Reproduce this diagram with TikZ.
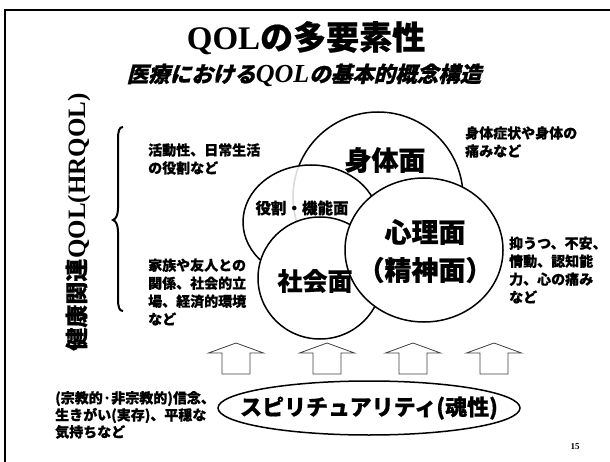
\documentclass[tikz,border=0pt]{standalone}
\usepackage{fontspec}
\usetikzlibrary{shapes.geometric}
\setmainfont{Liberation Serif}
\newfontfamily\jp{Noto Sans CJK JP}[BoldFeatures={FakeBold=0.6}]
\newfontfamily\jpsl{Noto Sans CJK JP}[UprightFeatures={FakeSlant=0.25},BoldFeatures={FakeSlant=0.25,FakeBold=1}]
\tikzset{
  disc/.style={draw=black, line width=1.5pt, fill=white, ellipse, inner sep=0pt, minimum width=#1},
  note/.style={anchor=west, align=left, inner sep=0pt, font=\jp\bfseries\fontsize{14}{18}\selectfont},
  biglabel/.style={inner sep=0pt, font=\jp\bfseries\fontsize{27}{36}\selectfont},
  blockarrow/.style={draw=black!75, line width=0.8pt, fill=white},
}
\begin{document}
\begin{tikzpicture}[x=1pt,y=-1pt]
\useasboundingbox (0,0) rectangle (610,462);
% frame
\draw[line width=2pt] (5,470) -- (5,10) -- (620,10);
% titles
\node[inner sep=0pt, font=\bfseries\fontsize{33}{36}\selectfont] (title) at (306,38) {QOL{\jp\bfseries の多要素性}};
\node[inner sep=0pt, font=\bfseries\itshape\fontsize{26}{28}\selectfont] (subtitle) at (304,75) {{\jpsl\bfseries\upshape\fontsize{21.5}{26}\selectfont 医療における}QOL{\jpsl\bfseries\upshape\fontsize{21.5}{26}\selectfont の基本的概念構造}};
% vertical label
\node[inner sep=0pt, rotate=90, font=\bfseries\fontsize{25}{26}\selectfont] (hrqol) at (78,222) {{\jp\bfseries\fontsize{23}{26}\selectfont 健康関連}QOL(HRQOL)};
% brace
\draw[line width=2pt] (123,127) .. controls (119,127) and (118,131) .. (118,140) -- (118,208)
  .. controls (118,215) and (116,219) .. (113,220) .. controls (116,221) and (118,225) .. (118,232)
  -- (118,298) .. controls (118,307) and (119,311) .. (123,311);
% circles
\node[disc=170, minimum height=170] (shintai) at (378,197) {};
\node[disc=136, minimum height=114, fill opacity=0.85] (yakuwari) at (311,222) {};
\node[disc=124, minimum height=122] (shakai) at (320,278) {};
\node[disc=158, minimum height=144] (shinri) at (424,250) {};
% circle labels
\node[biglabel] (shintaiL) at (385,160) {身体面};
\node[inner sep=0pt, font=\jp\bfseries\fontsize{15.5}{18}\selectfont] (yakuwariL) at (302,208) {役割・機能面};
\node[biglabel, font=\jp\bfseries\fontsize{25}{30}\selectfont] (shakaiL) at (315,281) {社会面};
\node[biglabel] (shinriL) at (425,232) {心理面};
\node[biglabel] (seishinL) at (425,270) {（精神面）};
% notes
\node[note] (n1) at (148,159) {活動性、日常生活\\の役割など};
\node[note] (n2) at (148,292) {家族や友人との\\関係、社会的立\\場、経済的環境\\など};
\node[note] (n3) at (465,142) {身体症状や身体の\\痛みなど};
\node[note] (n4) at (509,270) {抑うつ、不安、\\情動、認知能\\力、心の痛み\\など};
\node[note, font=\jp\bfseries\fontsize{14}{17}\selectfont] (n5) at (55,415) {(宗教的·非宗教的)信念、\\生きがい(実存)、平穏な\\気持ちなど};
% block arrows
\foreach \cx in {236,327,413,494} {
  \draw[blockarrow] (\cx,343) -- (\cx+27.5,353) -- (\cx+14,353) -- (\cx+14,374)
    -- (\cx-14,374) -- (\cx-14,353) -- (\cx-27.5,353) -- cycle;
}
% spirituality
\node[disc=302, minimum height=54] (spirit) at (369,408) {};
\node[inner sep=0pt, font=\jp\bfseries\fontsize{22}{26}\selectfont] (spiritL) at (369,408) {スピリチュアリティ(魂性)};
% page number
\node[inner sep=0pt, font=\bfseries\fontsize{9}{10}\selectfont] (page) at (575,447) {15};
\end{tikzpicture}
\end{document}
